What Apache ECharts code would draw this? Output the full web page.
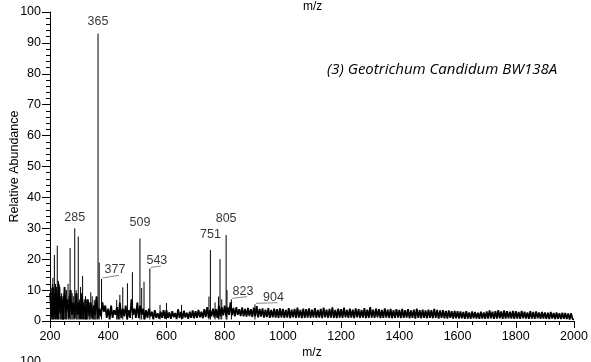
<!DOCTYPE html>
<html>
<head>
<meta charset="utf-8">
<script src="https://cdn.jsdelivr.net/npm/echarts@6/dist/echarts.min.js"></script>
<style>
html,body{margin:0;padding:0;background:#fff;}
#c{width:591px;height:362px;}
</style>
</head>
<body>
<div id="c"></div>
<script>
// ---- data ----
// baseline / noise intensities every 5 m/z starting at m/z 200
const baselineStartMz = 200;
const baselineStepMz = 5;
const baseline = [
  9,1.5,11,2,10,1,12,2.5,8,0.5,11,3,7,1,10,2,6,1,9,2,
  6,1,8,2,5,0.5,7,1.5,6,1,5,2,8,1,4,1.5,6,3,5,1,
  4,0.5,5,1,3.5,2,4.5,0.5,6,1,4,1.5,5,0.5,3.5,1,7,2,4,1,
  6,1,5,2,4,0.5,3.5,1,4,1.5,3,0.5,3.5,1,2.5,0.8,3,1,3.5,0.8,
  3.5,1,2.8,0.7,3.2,1.2,2.6,0.6,3.8,1,2.9,0.8,3.3,1.1,2.7,0.7,3,1,3.4,0.9,
  3.2,1,3.6,1.2,3,0.9,3.8,1.3,4.5,1,3.5,1.5,4,1.2,3.8,1,5,1.5,4.5,1.8,
  5,1.5,4.5,2,6,1.8,4.2,1.5,4.5,2,3.8,1.6,4.4,1.5,3.9,1.4,4.2,1.6,3.8,1.3,
  4.3,1.5,4.8,1.2,3.9,1.4,4.1,1.1,3.7,1.3,4.2,1,3.6,1.2,4,1.1,3.8,1,4.1,1.2,
  3.9,1,3.6,1.1,4.2,0.9,3.7,1.2,3.9,1,4.3,1.1,3.6,0.9,4,1,3.8,1.1,4.1,1,
  3.7,1.2,4.2,1,3.6,1.1,3.9,0.9,4.3,1.2,3.7,1,3.9,1.1,4.4,1,3.6,0.9,4,1.1,
  3.8,1,4.3,1.2,3.6,1,4,1.1,3.7,0.9,4.1,1.2,3.8,1,3.6,1.1,4.2,0.9,3.7,1,
  4.5,1.1,3.7,1,4,1.2,3.8,0.9,3.6,1,4.1,1.1,3.7,1,3.9,0.9,3.5,1,3.8,1.1,
  3.6,0.9,3.9,1,3.5,1.1,3.8,0.9,3.4,1,3.7,0.8,4,1,3.5,0.9,3.7,1,3.4,0.9,
  3.7,1,3.5,0.9,3.9,1,3.6,0.8,3.4,1,3.5,0.9,3.3,0.8,3.4,1,3.2,0.8,3.3,0.9,
  3.2,0.8,3.1,0.9,2.9,0.7,3.2,0.8,2.8,0.7,3.1,0.9,2.9,0.8,2.7,0.7,3,0.8,2.8,0.7,
  3.1,0.8,3.4,0.9,3,0.7,3.2,0.8,3.5,0.9,3.1,0.7,3.4,0.8,3.2,0.9,3,0.8,3.3,0.7,
  3.2,0.8,2.9,0.7,3.3,0.9,3,0.8,2.8,0.7,3.2,0.8,2.9,0.7,3.1,0.9,2.8,0.7,2.9,0.8,
  2.8,0.7,2.7,0.6,2.9,0.8,2.6,0.6,2.8,0.7,2.5,0.6,2.7,0.7,2.6,0.6,2.4,0.5,2.5,0.6,
  0.5
];
// distinct peaks (m/z, relative abundance)
const peakMz = [203,206,208,210,212,215,219,222,225,227,229,234,237,240,243,246,249,253,257,262,265,269,272,276,280,285,290,293,297,301,305,308,312,315,318,322,326,330,335,340,345,349,352,355,358,362,365,369,377,429,440,450,466,483,509,515,523,543,578,600,652,746,751,767,779,784,790,805,808,823,904];
const peakAbundance = [9,10.7,12,14,8,21.4,12,11,24.4,9,13,11,8,9,7,8,9,6,10,12,8,23.6,10,9,8,30,10,9,27.3,7,11,9,14.6,6,7,8,7,6,6,9.3,8,5,6.8,6,7,5,93,18.9,13.6,6.8,8.5,10.9,12.2,15.8,26.7,10.7,12.7,17,5.2,5.8,5.2,7.9,23,6,7.9,20,7,27.8,10,7,5.4];
// annotated peaks
const labelMz = [365,285,509,805,751,543,377,823,904];
const labelText = ['365','285','509','805','751','543','377','823','904'];
const xTicks = [200,400,600,800,1000,1200,1400,1600,1800,2000];
const yTicks = [0,10,20,30,40,50,60,70,80,90,100];

// ---- presentation ----
const labelOffsets = [[0,-6],[0,-4],[0,-9],[0,-10],[0,-9],[7,-1.5],[13.5,-2.7],[11.6,-1.7],[18.5,-0.6]];
const leaderFlags = [false,false,false,false,false,true,true,true,true];
const FONT = 'Liberation Sans, Arial, sans-serif';

const noiseData = baseline.map((v,i)=>[baselineStartMz + i*baselineStepMz, v]);
const stickData = [];
peakMz.forEach((m,i)=>{ stickData.push([m,0.5]); stickData.push([m,peakAbundance[i]]); stickData.push(null); });

const labelData = labelMz.map((m,i)=>{
  const h = peakAbundance[peakMz.indexOf(m)];
  return {value:[m,h], label:{offset:labelOffsets[i]}};
});

const chart = echarts.init(document.getElementById('c'), null, {renderer:'canvas'});
chart.setOption({
  animation:false,
  backgroundColor:'#fff',
  grid:{left:50,right:17,top:12,bottom:41,containLabel:false,outerBoundsMode:'none'},
  xAxis:{
    type:'value', min:xTicks[0], max:xTicks[xTicks.length-1], interval:200,
    name:'m/z', nameLocation:'middle', nameGap:26, nameMoveOverlap:false,
    nameTextStyle:{fontFamily:FONT,fontSize:12,color:'#000'},
    axisLine:{show:true,lineStyle:{color:'#000',width:1}},
    axisTick:{show:true,length:7,lineStyle:{color:'#000'}},
    minorTick:{show:true,splitNumber:4,length:4,lineStyle:{color:'#000'}},
    axisLabel:{fontFamily:FONT,fontSize:12.5,color:'#000',margin:9,formatter:(v)=>String(v)},
    splitLine:{show:false}
  },
  yAxis:{
    type:'value', min:yTicks[0], max:yTicks[yTicks.length-1], interval:10,
    name:'Relative Abundance', nameLocation:'middle', nameGap:29, nameMoveOverlap:false,
    nameTextStyle:{fontFamily:FONT,fontSize:12.5,color:'#000'},
    axisLine:{show:true,lineStyle:{color:'#000',width:1}},
    axisTick:{show:true,length:8,lineStyle:{color:'#000'}},
    minorTick:{show:true,splitNumber:5,length:4,lineStyle:{color:'#000'}},
    axisLabel:{fontFamily:FONT,fontSize:12.5,color:'#000',margin:9,formatter:(v)=>String(v)},
    splitLine:{show:false}
  },
  series:[
    {type:'line',data:noiseData,showSymbol:false,symbol:'none',sampling:null,
     lineStyle:{color:'#000',width:1.8},z:2},
    {type:'line',data:stickData,showSymbol:false,symbol:'none',connectNulls:false,
     lineStyle:{color:'#000',width:1},z:2},
    {type:'scatter',data:labelData,symbolSize:0,z:3,
     label:{show:true,position:'top',distance:0,formatter:(p)=>labelText[p.dataIndex],
       fontFamily:FONT,fontSize:12.5,color:'#000'}}
  ],
  graphic:[]
});

// leader lines + extra texts
const g = [];
labelMz.forEach((m,i)=>{
  if(!leaderFlags[i]) return;
  const h = peakAbundance[peakMz.indexOf(m)];
  const p = chart.convertToPixel({gridIndex:0},[m,h]);
  const off = labelOffsets[i];
  const lx = p[0] + off[0] + 4;
  const ly = p[1] + off[1] - 1;
  g.push({type:'line',shape:{x1:p[0]+1,y1:p[1]-1,x2:lx,y2:ly},style:{stroke:'#888',lineWidth:1},z:5});
});
g.push({type:'text',left:303,top:1,style:{text:'m/z',font:'12px '+FONT,fill:'#000'}});
g.push({type:'text',left:327,top:62,style:{text:'(3) Geotrichum Candidum BW138A',font:'italic 15px "Open Sans"',fill:'#000'}});
g.push({type:'text',left:20,top:355,style:{text:'100',font:'12.5px '+FONT,fill:'#000'}});
chart.setOption({graphic:g});
</script>
</body>
</html>
